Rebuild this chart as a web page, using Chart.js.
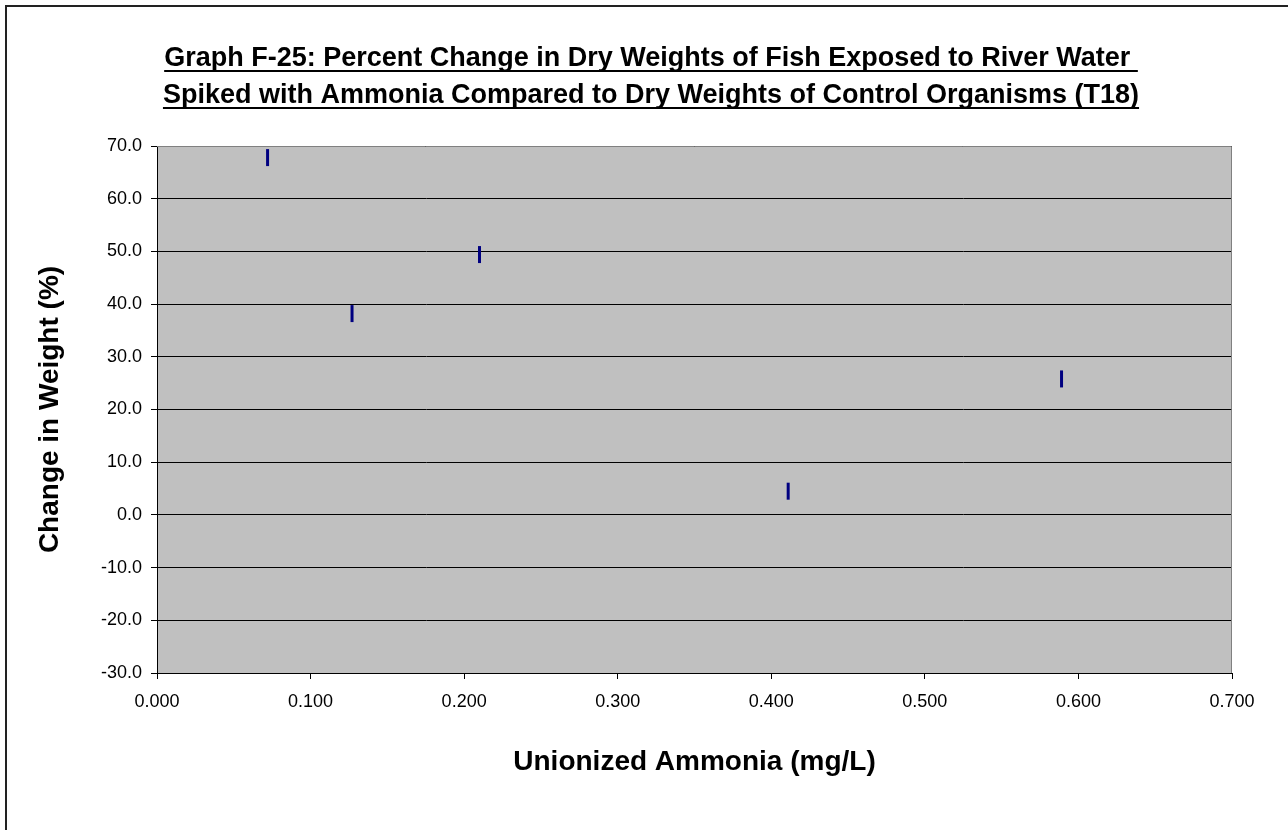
<!DOCTYPE html>
<html>
<head>
<meta charset="utf-8">
<script src="https://cdn.jsdelivr.net/npm/chart.js@4.4.0/dist/chart.umd.min.js"></script>
<style>
  html, body { margin: 0; padding: 0; background: #ffffff; }
  #wrap { width: 1288px; height: 830px; }
</style>
</head>
<body>
<div id="wrap"><canvas id="fishChart" width="1288" height="830"></canvas></div>
<script>
// data
const ammonia = [0.072, 0.127, 0.210, 0.411, 0.589];
const weightChange = [67.8, 38.2, 49.4, 4.5, 25.8];
const xTicks = [0.0, 0.1, 0.2, 0.3, 0.4, 0.5, 0.6, 0.7];
const yTicks = [-30, -20, -10, 0, 10, 20, 30, 40, 50, 60, 70];
const titleLines = [
    "Graph F-25: Percent Change in Dry Weights of Fish Exposed to River Water ",
    "Spiked with Ammonia Compared to Dry Weights of Control Organisms (T18)"
];

const FONT = "'Liberation Sans', Arial, sans-serif";

// grey plot area, framed like the old Excel charts
const plotBg = {
    id: 'plotBg',
    beforeDraw(chart) {
        const ctx = chart.ctx;
        const a = chart.chartArea;
        ctx.save();
        ctx.fillStyle = '#c0c0c0';
        ctx.fillRect(a.left, a.top, a.right - a.left, a.bottom - a.top);
        // outer frame of the picture (only top/left visible)
        ctx.fillStyle = '#222222';
        ctx.fillRect(5, 5, 1288, 2);
        ctx.fillRect(5, 5, 2, 830);
        ctx.restore();
    },
    beforeDatasetsDraw(chart) {
        const ctx = chart.ctx;
        const a = chart.chartArea;
        ctx.save();
        ctx.strokeStyle = '#808080';
        ctx.lineWidth = 1;
        ctx.beginPath();
        ctx.moveTo(a.left, a.top + 0.5);
        ctx.lineTo(a.right - 0.5, a.top + 0.5);
        ctx.lineTo(a.right - 0.5, a.bottom);
        ctx.stroke();
        ctx.restore();
    }
};

// two line underlined title
const underlinedTitle = {
    id: 'underlinedTitle',
    afterDraw(chart) {
        const ctx = chart.ctx;
        const cx = 651;
        const baselines = [66, 103];
        ctx.save();
        ctx.font = "bold 27px " + FONT;
        ctx.fillStyle = '#000';
        ctx.textAlign = 'center';
        ctx.textBaseline = 'alphabetic';
        titleLines.forEach((line, i) => {
            ctx.fillText(line, cx, baselines[i]);
            let w = ctx.measureText(line).width;
            ctx.fillRect(cx - w / 2, baselines[i] + 4, w, 2);
        });
        ctx.restore();
    }
};

const ctx = document.getElementById('fishChart').getContext('2d');
const fishChart = new Chart(ctx, {
    type: 'scatter',
    data: {
        datasets: [{
            label: 'Change in Weight',
            data: ammonia.map((x, i) => ({x: x, y: weightChange[i]})),
            pointStyle: 'line',
            rotation: 90,
            pointRadius: 8.5,
            pointHoverRadius: 8.5,
            borderColor: '#000080',
            backgroundColor: '#000080',
            pointBorderWidth: 3,
            pointHoverBorderWidth: 3,
            showLine: false
        }]
    },
    options: {
        responsive: false,
        animation: false,
        devicePixelRatio: 1,
        layout: {
            padding: {left: 30, right: 56, top: 146, bottom: 47}
        },
        scales: {
            x: {
                type: 'linear',
                min: 0,
                max: 0.7,
                afterBuildTicks: (scale) => {
                    scale.ticks = xTicks.map(v => ({value: v}));
                },
                afterFit: (scale) => { scale.height = 110; },
                ticks: {
                    padding: 12,
                    color: '#000',
                    font: {family: FONT, size: 18},
                    callback: (v) => Number(v).toFixed(3),
                    maxRotation: 0
                },
                grid: {
                    drawOnChartArea: false,
                    drawTicks: true,
                    tickLength: 6,
                    color: '#000'
                },
                border: {color: '#000', width: 1},
                title: {
                    display: true,
                    text: 'Unionized Ammonia (mg/L)',
                    color: '#000',
                    font: {family: FONT, size: 28, weight: 'bold'},
                    padding: {top: 0, bottom: 4}
                }
            },
            y: {
                type: 'linear',
                min: -30,
                max: 70,
                afterBuildTicks: (scale) => {
                    scale.ticks = yTicks.map(v => ({value: v}));
                },
                afterFit: (scale) => { scale.width = 127; },
                ticks: {
                    padding: 9,
                    color: '#000',
                    font: {family: FONT, size: 18},
                    callback: (v) => Number(v).toFixed(1)
                },
                grid: {
                    color: '#000',
                    lineWidth: 1,
                    tickLength: 6
                },
                border: {color: '#000', width: 1},
                title: {
                    display: true,
                    text: 'Change in Weight (%)',
                    color: '#000',
                    font: {family: FONT, size: 28, weight: 'bold'},
                    padding: {top: 3, bottom: 0}
                }
            }
        },
        plugins: {
            legend: {display: false},
            tooltip: {enabled: false},
            title: {display: false}
        }
    },
    plugins: [plotBg, underlinedTitle]
});
</script>
</body>
</html>
